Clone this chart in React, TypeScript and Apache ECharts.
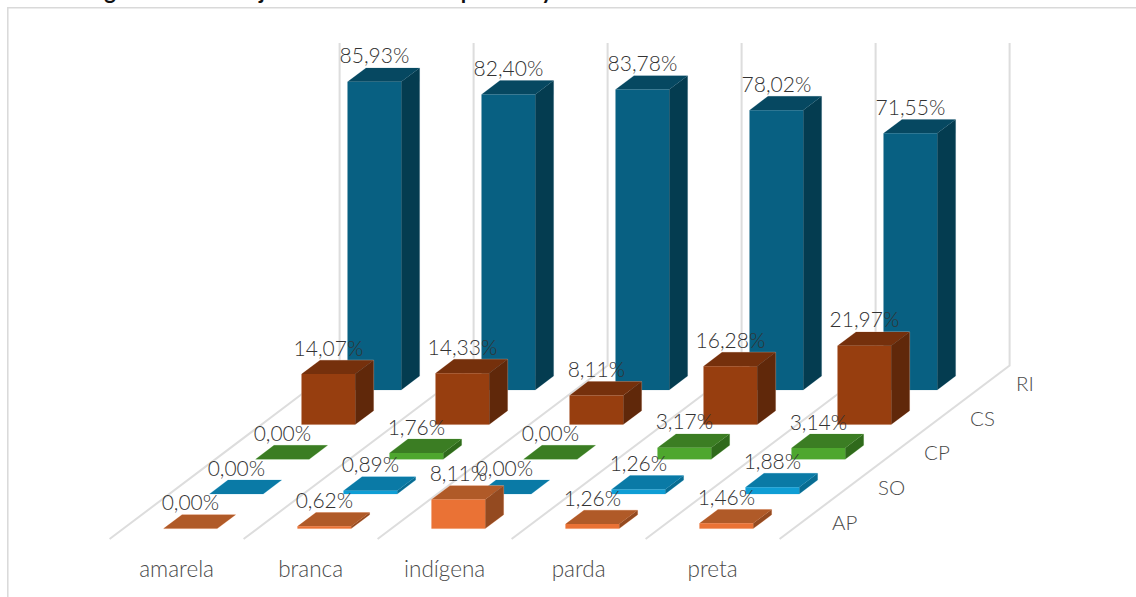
import React, { useEffect, useRef } from "react";
import * as echarts from "echarts";

const categories = ["amarela", "branca", "indígena", "parda", "preta"];
const rowNames = ["AP", "SO", "CP", "CS", "RI"];

const apValues = [0, 0.62, 8.11, 1.26, 1.46];
const soValues = [0, 0.89, 0, 1.26, 1.88];
const cpValues = [0, 1.76, 0, 3.17, 3.14];
const csValues = [14.07, 14.33, 8.11, 16.28, 21.97];
const riValues = [85.93, 82.4, 83.78, 78.02, 71.55];

const rowValues = [apValues, soValues, cpValues, csValues, riValues];

// front, top and side face colours of each row
const rowFaces = [
  ["#EA7235", "#B05A28", "#944A20"],
  ["#0F9ED5", "#0A7AA6", "#086C92"],
  ["#4EA72E", "#3B7D23", "#2F6A1B"],
  ["#973E0F", "#75300C", "#60280A"],
  ["#086082", "#064861", "#043C50"],
];
const rowEdges = ["#F4B898", "#9BD5EC", "#B4DCA6", "#E3C3B2", "#B4CBD6"];

// Oblique floor projection: one depth row moves a point this many pixels.
const ROW_DX = 46;
const ROW_DY = 34.68;
const BAR_HALF = 0.2;

const FONT = "Lato, 'Open Sans', sans-serif";

const formatPercent = (v: number) => v.toFixed(2).replace(".", ",") + "%";

function project(api: any, cat: number, across: number, row: number, value: number) {
  const base = api.coord([cat, value]);
  const band = api.size([1, 0])[0];
  return [base[0] + across * band + row * ROW_DX, base[1] - row * ROW_DY];
}

function barSeries(rowIndex: number) {
  const [front, top, side] = rowFaces[rowIndex];
  const edge = rowEdges[rowIndex];
  return {
    type: "custom",
    name: rowNames[rowIndex],
    z: 3 + (rowNames.length - rowIndex),
    encode: { x: 0, y: 1 },
    data: rowValues[rowIndex].map((v, i) => [i, v]),
    clip: false,
    renderItem: (_: any, api: any) => {
      const cat = api.value(0);
      const v = api.value(1);
      const near = rowIndex + 0.5 - BAR_HALF;
      const far = rowIndex + 0.5 + BAR_HALF;
      const l = -BAR_HALF;
      const r = BAR_HALF;
      const P = (a: number, d: number, h: number) => project(api, cat, a, d, h);
      const children: any[] = [];
      const outline = [P(l, near, 0), P(r, near, 0), P(r, far, 0), P(r, far, v), P(l, far, v), P(l, near, v)];
      children.push({
        type: "polygon",
        shape: { points: outline },
        style: { fill: edge, stroke: edge, lineWidth: 1, opacity: 0.55 },
      });
      children.push({
        type: "polygon",
        shape: { points: [P(r, near, 0), P(r, far, 0), P(r, far, v), P(r, near, v)] },
        style: { fill: side },
      });
      children.push({
        type: "polygon",
        shape: { points: [P(l, near, v), P(r, near, v), P(r, far, v), P(l, far, v)] },
        style: { fill: top },
      });
      children.push({
        type: "polygon",
        shape: { points: [P(l, near, 0), P(r, near, 0), P(r, near, v), P(l, near, v)] },
        style: { fill: front },
      });
      return { type: "group", children };
    },
  };
}

function labelSeries(rowIndex: number) {
  return {
    type: "custom",
    name: rowNames[rowIndex] + " labels",
    z: 20,
    encode: { x: 0, y: 1 },
    data: rowValues[rowIndex].map((v, i) => [i, v]),
    clip: false,
    silent: true,
    renderItem: (_: any, api: any) => {
      const v = api.value(1);
      const cat = api.value(0);
      // horizontally centred on the front face, vertically above the rear edge of the top
      const front = project(api, cat, 0, rowIndex + 0.5 - BAR_HALF, v);
      const rear = project(api, cat, 0, rowIndex + 0.5 + BAR_HALF, v);
      return {
        type: "text",
        x: front[0],
        y: rear[1] - 13,
        style: {
          text: formatPercent(v),
          align: "center",
          verticalAlign: "middle",
          fontFamily: FONT,
          fontSize: 21,
          fontWeight: 300,
          fill: "#333333",
        },
      };
    },
  };
}

const wallBoundaries = [0, 1, 2, 3, 4, 5];
const AXIS_TOP = 90;

const wallSeries = {
  type: "custom",
  name: "walls",
  z: 1,
  encode: { x: 0, y: 1 },
  data: wallBoundaries.map((b) => [b, 0]),
  clip: false,
  silent: true,
  renderItem: (_: any, api: any) => {
    const offset = api.value(0) - 0.5;
    const pts = [
      project(api, 0, offset, 0, 0),
      project(api, 0, offset, rowNames.length, 0),
      project(api, 0, offset, rowNames.length, AXIS_TOP),
    ];
    return {
      type: "polyline",
      shape: { points: pts },
      style: { fill: "none", stroke: "#DDDDDD", lineWidth: 2 },
    };
  },
};

const rowLabelSeries = {
  type: "custom",
  name: "rows",
  z: 20,
  encode: { x: 0, y: 1 },
  data: rowNames.map((_, i) => [i, 0]),
  clip: false,
  silent: true,
  renderItem: (_: any, api: any) => {
    const row = api.value(0);
    const p = project(api, categories.length - 1, 0.5, row + 0.5, 0);
    return {
      type: "text",
      x: p[0] + 29.5,
      y: p[1],
      style: {
        text: rowNames[row],
        align: "left",
        verticalAlign: "middle",
        fontFamily: FONT,
        fontSize: 20.5,
        fontWeight: 300,
        fill: "#4a4a4a",
      },
    };
  },
};

// Only the descenders of the heading fall inside the page.
const headingGlyphs: [string, number][] = [
  ["g", 110],
  ["j", 262],
  ["p", 467],
  ["y", 547],
];

export default function App() {
  const ref = useRef<HTMLDivElement>(null);
  useEffect(() => {
    const chart = echarts.init(ref.current!, null, { renderer: "svg" });
    chart.setOption({
      animation: false,
      backgroundColor: "#ffffff",
      grid: { left: 109.6, top: 216.35, width: 670, height: 322.65, containLabel: false },
      xAxis: {
        type: "category",
        data: categories,
        axisLine: { show: false },
        axisTick: { show: false },
        splitLine: { show: false },
        axisLabel: {
          show: true,
          interval: 0,
          margin: 18,
          fontFamily: FONT,
          fontSize: 22.5,
          fontWeight: 300,
          color: "#4a4a4a",
        },
      },
      yAxis: { type: "value", min: 0, max: AXIS_TOP, interval: 10, show: false },
      graphic: [
        {
          type: "polyline",
          shape: { points: [[7.8, 597], [7.8, 7.8], [1136, 7.8]] },
          style: { fill: "none", stroke: "#D9D9D9", lineWidth: 1.5 },
          silent: true,
        },
        ...headingGlyphs.map(([text, x]) => ({
          type: "text",
          x,
          y: 1.5,
          style: {
            text,
            textAlign: "center",
            textVerticalAlign: "bottom",
            fontFamily: FONT,
            fontSize: 22,
            fontWeight: 700,
            fill: "#111111",
          },
          silent: true,
        })),
      ],
      series: [
        wallSeries,
        ...rowNames.map((_, i) => barSeries(rowNames.length - 1 - i)),
        ...rowNames.map((_, i) => labelSeries(rowNames.length - 1 - i)),
        rowLabelSeries,
      ],
    });
    return () => chart.dispose();
  }, []);
  return (
    <div
      ref={ref}
      style={{ position: "fixed", left: 0, top: 0, width: 1136, height: 597, background: "#fff" }}
    />
  );
}
